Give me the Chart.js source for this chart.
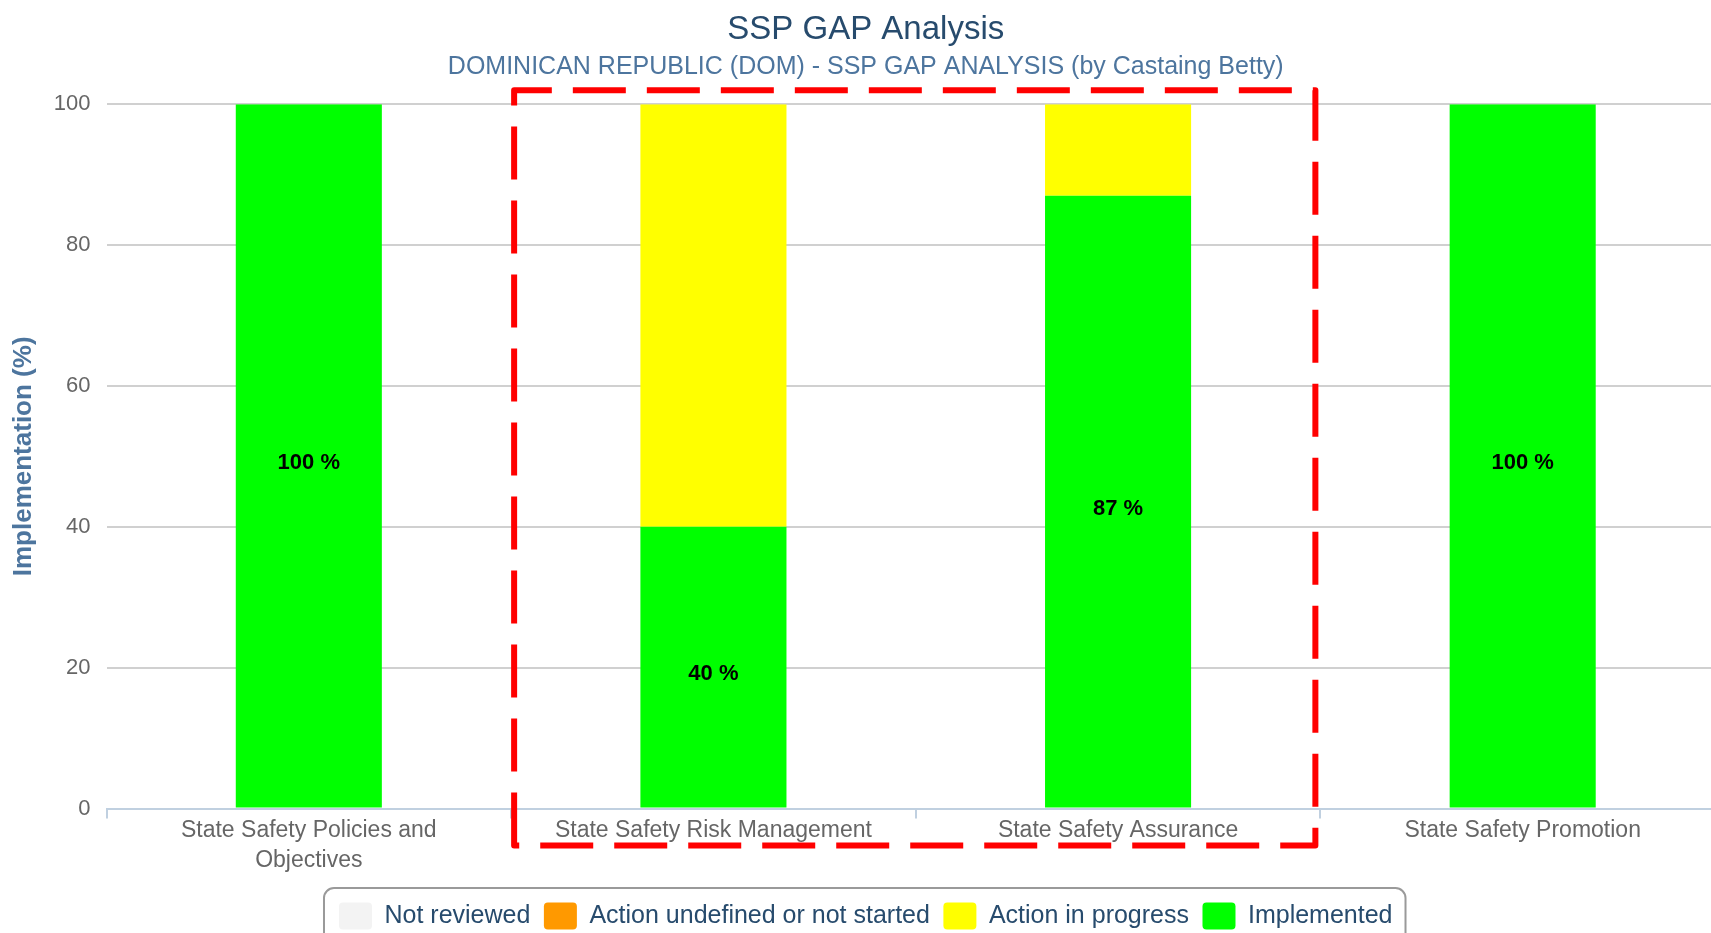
<!DOCTYPE html>
<html>
<head>
<meta charset="utf-8">
<title>SSP GAP Analysis</title>
<script src="https://cdn.jsdelivr.net/npm/chart.js"></script>
<style>
  html, body { margin: 0; padding: 0; background: #fff; overflow: hidden; }
  #wrap { width: 1730px; height: 941px; }
</style>
</head>
<body>
<div id="wrap"><canvas id="gap"></canvas></div>
<script>
// x axis categories
const categories = [
  ['State Safety Policies and', 'Objectives'],
  'State Safety Risk Management',
  'State Safety Assurance',
  'State Safety Promotion',
];

// values per status (%)
const notReviewed = [0, 0, 0, 0];
const notStarted = [0, 0, 0, 0];
const inProgress = [0, 60, 13, 0];
const implemented = [100, 40, 87, 100];

// y axis ticks
const yTicks = [0, 20, 40, 60, 80, 100];

const fontFamily = "'Liberation Sans', Arial, sans-serif";

// datasets: first one sits at the bottom of the stack, legend is reversed
const gapData = {
  labels: categories,
  datasets: [
    { label: 'Implemented', data: implemented, backgroundColor: '#00ff00' },
    { label: 'Action in progress', data: inProgress, backgroundColor: '#ffff00' },
    { label: 'Action undefined or not started', data: notStarted, backgroundColor: '#ff9900' },
    { label: 'Not reviewed', data: notReviewed, backgroundColor: '#f3f3f3' },
  ]
};

// "xx %" in the middle of the green part
const valueLabels = {
  id: 'valueLabels',
  afterDatasetsDraw(chart) {
    const idx = chart.data.datasets.findIndex(d => d.label === 'Implemented');
    const meta = chart.getDatasetMeta(idx);
    const ctx = chart.ctx;
    ctx.save();
    ctx.font = 'bold 22px ' + fontFamily;
    ctx.fillStyle = '#000';
    ctx.textAlign = 'center';
    ctx.textBaseline = 'middle';
    meta.data.forEach((bar, i) => {
      const v = chart.data.datasets[idx].data[i];
      if (!v) return;
      const p = bar.getProps(['x', 'y', 'base'], true);
      ctx.fillText(v + ' %', p.x, (p.y + p.base) / 2 + 7);
    });
    ctx.restore();
  }
};

// rounded frame around the legend items
const legendFrame = {
  id: 'legendFrame',
  afterDraw(chart) {
    const boxes = chart.legend.legendHitBoxes;
    if (!boxes || !boxes.length) return;
    const left = Math.min(...boxes.map(b => b.left)) - 15;
    const right = Math.max(...boxes.map(b => b.left + b.width)) + 13;
    const top = boxes[0].top - 14.5;
    const ctx = chart.ctx;
    ctx.save();
    ctx.strokeStyle = '#9a9a9a';
    ctx.lineWidth = 2;
    ctx.beginPath();
    ctx.roundRect(left, top, right - left, 62, 10);
    ctx.stroke();
    ctx.restore();
  }
};

// red dashed highlight over the two middle categories
const highlight = {
  id: 'highlight',
  afterDraw(chart) {
    const x = chart.scales.x;
    const area = chart.chartArea;
    const left = x.getPixelForValue(0.5) + 3;
    const right = x.getPixelForValue(2.5) - 5;
    const top = area.top - 14;
    const bottom = area.bottom + 37;
    const ctx = chart.ctx;
    ctx.save();
    ctx.strokeStyle = '#ff0000';
    ctx.lineWidth = 6;
    ctx.lineJoin = 'round';
    ctx.setLineDash([53, 21]);
    ctx.beginPath();
    ctx.moveTo(left, bottom);
    ctx.lineTo(left, top);
    ctx.lineTo(right, top);
    ctx.lineTo(right, bottom);
    ctx.closePath();
    ctx.stroke();
    ctx.restore();
  }
};

const options = {
  responsive: true,
  maintainAspectRatio: false,
  animation: false,
  layout: { padding: { left: 6.5, right: 5, top: 0, bottom: 1.5 } },
  scales: {
    x: {
      stacked: true,
      afterFit(scale) { scale.height = 80.5; },
      grid: {
        drawOnChartArea: false,
        offset: true,
        tickLength: 10,
        color: '#c0d0e0',
        lineWidth: 2
      },
      border: { color: '#c0d0e0', width: 2 },
      ticks: {
        padding: -3.5,
        color: '#666666',
        font: { family: fontFamily, size: 23, lineHeight: 1.33 }
      }
    },
    y: {
      stacked: true,
      min: yTicks[0],
      max: yTicks[yTicks.length - 1],
      afterFit(scale) { scale.width = 100; },
      afterBuildTicks(scale) { scale.ticks = yTicks.map(v => ({ value: v })); },
      grid: {
        drawTicks: false,
        color: c => (c.tick && c.tick.value === 0) ? 'rgba(0,0,0,0)' : '#d0d0d0',
        lineWidth: 2
      },
      border: { display: false },
      ticks: {
        padding: 16,
        color: '#666666',
        font: { family: fontFamily, size: 22 }
      },
      title: {
        display: true,
        text: 'Implementation (%)',
        color: '#4d759e',
        padding: { top: 2, bottom: 2 },
        font: { family: fontFamily, size: 26, weight: 'bold', lineHeight: 1.2 }
      }
    }
  },
  plugins: {
    title: {
      display: true,
      text: 'SSP GAP Analysis',
      color: '#274b6d',
      padding: { top: 10.2, bottom: 0 },
      font: { family: fontFamily, size: 33, weight: 'normal', lineHeight: 1.2 }
    },
    subtitle: {
      display: true,
      text: 'DOMINICAN REPUBLIC (DOM) - SSP GAP ANALYSIS (by Castaing Betty)',
      color: '#4d759e',
      padding: { top: 2.2, bottom: 22.2 },
      font: { family: fontFamily, size: 25, weight: 'normal', lineHeight: 1.2 }
    },
    legend: {
      position: 'bottom',
      reverse: true,
      labels: {
        color: '#274b6d',
        boxWidth: 33,
        boxHeight: 27,
        padding: 13.5,
        useBorderRadius: true,
        borderRadius: 4,
        font: { family: fontFamily, size: 25 }
      }
    },
    tooltip: { enabled: false }
  },
  datasets: {
    bar: { barPercentage: 0.361, categoryPercentage: 1 }
  }
};

const gapChart = new Chart(document.getElementById('gap'), {
  type: 'bar',
  data: gapData,
  options: options,
  plugins: [valueLabels, legendFrame, highlight]
});
</script>
</body>
</html>
